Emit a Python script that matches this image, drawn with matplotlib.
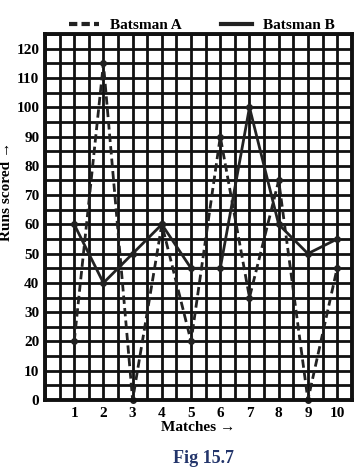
import matplotlib
matplotlib.use('Agg')
import matplotlib.pyplot as plt
from matplotlib.lines import Line2D
import numpy as np

matches = [1, 2, 3, 4, 5, 6, 7, 8, 9, 10]
batsman_a = [20, 115, 0, 60, 20, 90, 35, 75, 0, 45]
batsman_b = [60, 40, 50, 60, 45, 45, 100, 60, 50, 55]
y_ticks = list(range(0, 121, 10))

plt.rcParams['font.family'] = ['Liberation Serif', 'DejaVu Serif']
plt.rcParams['font.weight'] = 'bold'

fig = plt.figure(figsize=(3.6, 4.75), dpi=100)
ax = fig.add_axes([0.125, 0.158, 0.852, 0.770])

ax.set_xlim(0, 10.5)
ax.set_ylim(0, 125)
ax.set_xticks(matches)
ax.set_xticks(np.arange(0, 10.51, 0.5), minor=True)
ax.set_yticks(y_ticks)
ax.set_yticks(np.arange(0, 125.1, 5), minor=True)
ax.grid(which='both', color='#111111', linewidth=2)
ax.set_axisbelow(True)
ax.tick_params(which='both', length=0, labelsize=11)
ax.tick_params(axis='y', pad=4)
ax.tick_params(axis='x', pad=5)
for lab in ax.get_xticklabels() + ax.get_yticklabels():
    lab.set_fontweight('bold')
for s in ax.spines.values():
    s.set_linewidth(2.8)
    s.set_color('#111111')

ax.plot(matches, batsman_a, linestyle=(0, (3, 1.5)), color='#222222', linewidth=2,
        marker='o', markersize=4, clip_on=False)
ax.plot(matches, batsman_b, linestyle='-', color='#222222', linewidth=2,
        marker='o', markersize=4, clip_on=False)

handles = [Line2D([], [], linestyle=(0, (2, 1)), color='#222222', linewidth=3),
           Line2D([], [], linestyle='-', color='#222222', linewidth=3)]
ax.legend(handles, ['Batsman A', 'Batsman B'], loc='lower center',
          bbox_to_anchor=(0.51, 0.985), ncol=2, frameon=False,
          handlelength=2.0, handletextpad=0.7, columnspacing=2.6, borderaxespad=0.1,
          prop={'weight': 'bold', 'size': 11})

ax.set_xlabel('Matches →', fontsize=11, fontweight='bold', labelpad=1)
ax.set_ylabel('Runs scored →', fontsize=11, fontweight='bold')
ax.yaxis.set_label_coords(-0.105, 0.57)
fig.text(0.565, 0.025, 'Fig 15.7', ha='center', fontsize=13, fontweight='bold',
         color='#23356b')

plt.savefig('out.png', dpi=100)
